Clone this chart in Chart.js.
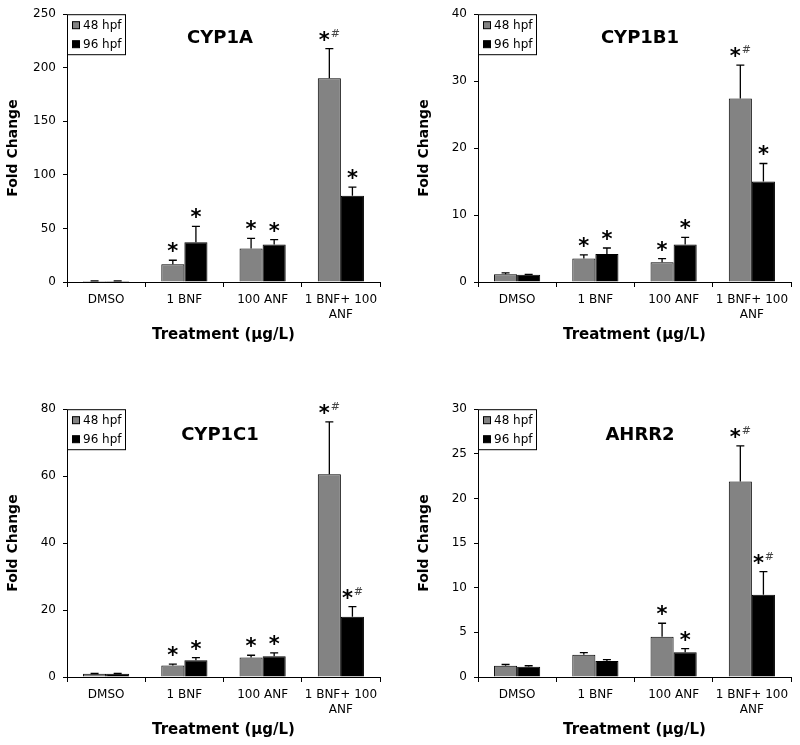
<!DOCTYPE html>
<html>
<head>
<meta charset="utf-8">
<script src="https://cdn.jsdelivr.net/npm/chart.js@4/dist/chart.umd.min.js"></script>
<style>
  body { margin: 0; background: #fff; }
  #wrap { position: relative; width: 800px; height: 745px; }
  .panel { position: absolute; width: 389px; height: 350px; }
</style>
</head>
<body>
<div id="wrap">
  <div class="panel" style="left:0;top:0"><canvas id="c1"></canvas></div>
  <div class="panel" style="left:411px;top:0"><canvas id="c2"></canvas></div>
  <div class="panel" style="left:0;top:395px"><canvas id="c3"></canvas></div>
  <div class="panel" style="left:411px;top:395px"><canvas id="c4"></canvas></div>
</div>
<script>
var categories = ['DMSO', '1 BNF', '100 ANF', ['1 BNF+ 100', 'ANF']];
var seriesNames = ['48 hpf', '96 hpf'];

// CYP1A
var cyp1a48 = [1.0, 16.6, 31.3, 190.1];
var cyp1a48Err = [0.1, 3.7, 9.5, 27.7];
var cyp1a96 = [1.0, 37.2, 35.0, 80.5];
var cyp1a96Err = [0.1, 14.7, 4.6, 8.0];
var cyp1a48Marks = ['', '*', '*', '*#'];
var cyp1a96Marks = ['', '*', '*', '*'];

// CYP1B1
var cyp1b148 = [1.15, 3.5, 2.95, 27.4];
var cyp1b148Err = [0.2, 0.54, 0.54, 5.0];
var cyp1b196 = [1.1, 4.2, 5.6, 15.0];
var cyp1b196Err = [0.05, 0.88, 1.08, 2.7];
var cyp1b148Marks = ['', '*', '*', '*#'];
var cyp1b196Marks = ['', '*', '*', '*'];

// CYP1C1
var cyp1c148 = [1.0, 3.45, 5.8, 60.6];
var cyp1c148Err = [0.05, 0.4, 0.7, 15.6];
var cyp1c196 = [1.0, 5.0, 6.2, 18.0];
var cyp1c196Err = [0.05, 0.8, 1.0, 3.0];
var cyp1c148Marks = ['', '*', '*', '*#'];
var cyp1c196Marks = ['', '*', '*', '*#'];

// AHRR2
var ahrr248 = [1.26, 2.48, 4.5, 21.9];
var ahrr248Err = [0.14, 0.26, 1.52, 4.0];
var ahrr296 = [1.15, 1.8, 2.77, 9.2];
var ahrr296Err = [0.11, 0.15, 0.41, 2.6];
var ahrr248Marks = ['', '', '*', '*#'];
var ahrr296Marks = ['', '', '*', '*#'];

var yMax = [250, 40, 80, 30];
var yStep = [50, 10, 20, 5];

var FONT = 'DejaVu Sans';
var GRAY = '#838383';

// error bars, significance marks, panel title and legend
var extras = {
    id: 'extras',
    afterDatasetsDraw: function (chart, args, opts) {
        var ctx = chart.ctx;
        var y = chart.scales.y;
        ctx.save();
        chart.data.datasets.forEach(function (ds, di) {
            var meta = chart.getDatasetMeta(di);
            meta.data.forEach(function (bar, i) {
                var top = y.getPixelForValue(ds.data[i] + ds.errors[i]);
                ctx.strokeStyle = '#000';
                ctx.lineWidth = 1.3;
                ctx.beginPath();
                ctx.moveTo(bar.x, bar.y);
                ctx.lineTo(bar.x, top);
                ctx.moveTo(bar.x - 4, top);
                ctx.lineTo(bar.x + 4, top);
                ctx.stroke();

                var m = ds.marks[i];
                if (!m) return;
                var cy = top - 13;
                ctx.fillStyle = '#000';
                ctx.font = 'bold 21px "' + FONT + '"';
                ctx.textBaseline = 'alphabetic';
                ctx.textAlign = 'center';
                var sx = m === '*#' ? bar.x - 5 : bar.x;
                ctx.fillText('*', sx, cy + 11);
                if (m === '*#') {
                    ctx.fillStyle = '#444';
                    ctx.font = '11px "' + FONT + '"';
                    ctx.fillText('#', sx + 11, cy + 1);
                }
            });
        });

        var a = chart.chartArea;
        ctx.fillStyle = '#000';
        ctx.font = 'bold 18px "' + FONT + '"';
        ctx.textAlign = 'center';
        ctx.textBaseline = 'middle';
        ctx.fillText(opts.title, a.left + opts.titleX, a.top + opts.titleY);

        // legend box
        var lx = a.left, ly = a.top;
        ctx.fillStyle = '#fff';
        ctx.fillRect(lx, ly, 58, 40);
        ctx.strokeStyle = '#000';
        ctx.lineWidth = 1;
        ctx.strokeRect(lx + 0.5, ly + 0.5, 58, 40);
        ctx.font = '12px "' + FONT + '"';
        ctx.textAlign = 'left';
        chart.data.datasets.forEach(function (ds, di) {
            var yy = ly + 11 + di * 19;
            ctx.fillStyle = ds.backgroundColor;
            ctx.fillRect(lx + 5.5, yy - 3.5, 7, 7);
            ctx.strokeRect(lx + 5.5, yy - 3.5, 7, 7);
            ctx.fillStyle = '#000';
            ctx.fillText(ds.label, lx + 16, yy + 1);
        });
        ctx.restore();
    }
};

function makeChart(id, title, titleX, titleY, d48, e48, m48, d96, e96, m96, max, step) {
    return new Chart(document.getElementById(id), {
        type: 'bar',
        data: {
            labels: categories,
            datasets: [
                { label: seriesNames[0], data: d48, errors: e48, marks: m48,
                  backgroundColor: GRAY, borderColor: '#000', borderWidth: 1 },
                { label: seriesNames[1], data: d96, errors: e96, marks: m96,
                  backgroundColor: '#000', borderColor: '#000', borderWidth: 1 }
            ]
        },
        options: {
            responsive: true,
            maintainAspectRatio: false,
            animation: false,
            layout: { padding: { left: 0, top: 11, right: 9, bottom: 0 } },
            datasets: { bar: { categoryPercentage: 0.59, barPercentage: 1 } },
            plugins: {
                legend: { display: false },
                tooltip: { enabled: false },
                extras: { title: title, titleX: titleX, titleY: titleY }
            },
            scales: {
                x: {
                    afterFit: function (s) { s.height = 68; },
                    grid: { offset: true, drawOnChartArea: false, tickLength: 5, color: '#000' },
                    border: { color: '#000', width: 1 },
                    ticks: { color: '#000', padding: 6, maxRotation: 0, autoSkip: false,
                             font: { family: FONT, size: 12 } },
                    title: { display: true, text: 'Treatment (µg/L)', color: '#000',
                             font: { family: FONT, size: 15, weight: 'bold' },
                             padding: { top: 0, bottom: 6 } }
                },
                y: {
                    min: 0, max: max,
                    afterFit: function (s) { s.width = 67; },
                    grid: { drawOnChartArea: false, tickLength: 4, color: '#000' },
                    border: { color: '#000', width: 1 },
                    ticks: { stepSize: step, color: '#000', padding: 7,
                             font: { family: FONT, size: 12 } },
                    title: { display: true, text: 'Fold Change', color: '#000',
                             font: { family: FONT, size: 14, weight: 'bold' },
                             padding: { top: 5, bottom: 0 } }
                }
            }
        },
        plugins: [extras]
    });
}

makeChart('c1', 'CYP1A', 153, 24, cyp1a48, cyp1a48Err, cyp1a48Marks, cyp1a96, cyp1a96Err, cyp1a96Marks, yMax[0], yStep[0]);
makeChart('c2', 'CYP1B1', 162, 24, cyp1b148, cyp1b148Err, cyp1b148Marks, cyp1b196, cyp1b196Err, cyp1b196Marks, yMax[1], yStep[1]);
makeChart('c3', 'CYP1C1', 153, 26, cyp1c148, cyp1c148Err, cyp1c148Marks, cyp1c196, cyp1c196Err, cyp1c196Marks, yMax[2], yStep[2]);
makeChart('c4', 'AHRR2', 162, 26, ahrr248, ahrr248Err, ahrr248Marks, ahrr296, ahrr296Err, ahrr296Marks, yMax[3], yStep[3]);
</script>
</body>
</html>
